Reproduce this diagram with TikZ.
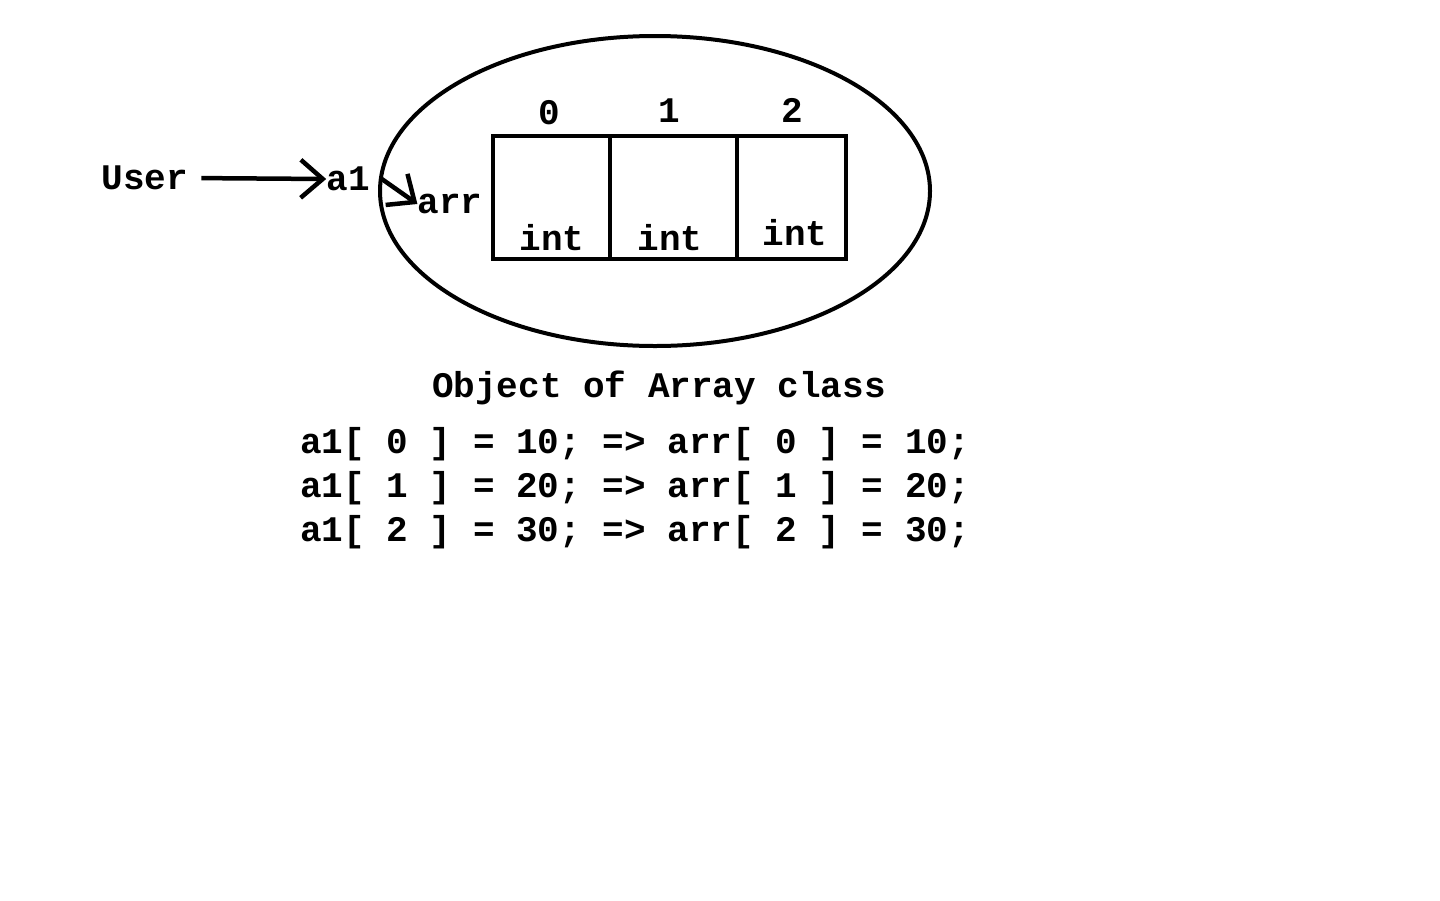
\documentclass[tikz,border=0pt]{standalone}
\usepackage{fontspec}
\setmainfont{Liberation Mono}
\usetikzlibrary{arrows.meta}

\begin{document}
\begin{tikzpicture}[x=1pt,y=-1pt,
    txt/.style={inner sep=0pt,font=\bfseries\fontsize{36}{40}\selectfont},
    cell/.style={draw,line width=4pt,minimum height=123pt,inner sep=0pt},
    barb/.style={line width=4.5pt,-{Straight Barb[length=22pt,width=38pt]}}]
                \useasboundingbox (0,0) rectangle (1440,900);
                % the object
                \draw[line width=4pt] (655,191) ellipse [x radius=275,y radius=155];
                % cells of arr
                \node[cell,minimum width=117pt] (cell0) at (551.5,197.5) {};
                \node[cell,minimum width=127pt] (cell1) at (673.5,197.5) {};
                \node[cell,minimum width=109pt] (cell2) at (791.5,197.5) {};
                \node[txt] (idx0) at (549,113) {0};
                \node[txt] (idx1) at (669,111) {1};
                \node[txt] (idx2) at (792,110) {2};
                \node[txt] (int0) at (552,238) {int};
                \node[txt] (int1) at (670,238) {int};
                \node[txt] (int2) at (795,233) {int};
                % references
                \node[txt] (user) at (145,178) {User};
                \node[txt] (a1) at (348,179) {a1};
                \node[txt] (arr) at (450,204) {arr};
                \draw[barb,shorten <=13pt] (user.east) -- (a1.west);
                \draw[barb] ([xshift=12pt]a1.east) -- (arr.west);
                % caption and code
                \node[txt] (caption) at (659,388) {Object of Array class};
                \node[txt,anchor=west] (line0) at (300,444) {a1[ 0 ] = 10; => arr[ 0 ] = 10;};
                \node[txt,anchor=west] (line1) at (300,488) {a1[ 1 ] = 20; => arr[ 1 ] = 20;};
                \node[txt,anchor=west] (line2) at (300,532) {a1[ 2 ] = 30; => arr[ 2 ] = 30;};
            \end{tikzpicture}
\end{document}
